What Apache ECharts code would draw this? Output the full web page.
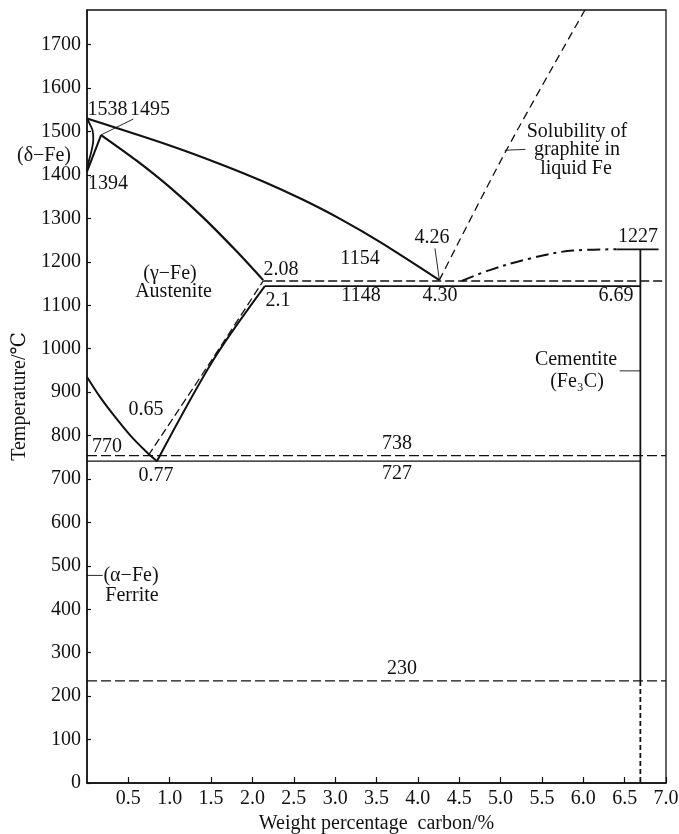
<!DOCTYPE html>
<html><head><meta charset="utf-8">
<script src="https://cdn.jsdelivr.net/npm/echarts@6/dist/echarts.min.js"></script>
<style>html,body{margin:0;padding:0;background:#fff}#c{width:679px;height:834px}</style>
</head><body><div id="c"></div>
<script>
// ---- data: [carbon %, temperature °C] ----
const liquidusBC = [[0,1530],[1.0,1468],[1.6,1426],[2.13,1385],[2.6,1344],[3.06,1299],[3.54,1246],[4.26,1158]];
const deltaLoop = [[0,1530],[0.04,1515],[0.07,1500],[0.076,1484],[0.057,1458],[0.016,1427],[0,1408]];
const gammaNJ = [[0,1408],[0.17,1492]];
const solidusJE = [[0.17,1492],[0.6,1433],[1.0,1372],[1.4,1303],[1.8,1226],[2.13,1158]];
const eutecticStable = [[2.13,1156],[7,1156]];
const eutecticMeta = [[2.15,1144],[6.69,1144]];
const cementiteLiquidus = [[4.53,1156],[4.87,1181],[5.36,1208],[5.88,1226],[6.40,1229]];
const graphiteSolubility = [[4.26,1158],[5.07,1457],[6.02,1780]];
const cementiteTop = [[6.40,1229],[6.91,1229]];
const cementiteSolid = [[6.69,1229],[6.69,235]];
const cementiteDashed = [[6.69,235],[6.69,0]];
const a3Line = [[0,935],[0.157,889],[0.318,848],[0.52,801],[0.72,762],[0.845,741]];
const acmLine = [[0.845,741],[1.527,974],[2.15,1144]];
const acmStable = [[0.74,754],[1.508,974],[2.13,1156]];
const eutectoidMeta = [[0,741],[6.69,741]];
const eutectoidStable = [[0,754],[7,754]];
const line230 = [[0,235],[7,235]];
// leader lines
const leader1495 = [[0.166,1492],[0.56,1529]];
const leader426 = [[4.207,1231],[4.26,1158]];
const leaderGraphite = [[5.05,1457],[5.30,1459]];
const leaderCementite = [[6.44,949],[6.69,949]];
const leaderAlpha = [[0,478],[0.19,478]];
const leaderDelta = [[-0.25,1446],[0,1446]];
// axes
const xMin = 0, xMax = 7, xStep = 0.5;
const yMin = 0, yMax = 1780, yStep = 100;

const FONT = '"Liberation Serif","DejaVu Serif",serif';
const INK = '#111';

function seg(data, width, type, extra) {
  return Object.assign({
    type: 'line', data, symbol: 'none', silent: true, animation: false,
    lineStyle: { color: INK, width, type: type || 'solid' }
  }, extra || {});
}
function txt(text, x, y, extra) {
  return Object.assign({
    type: 'text', x, y, silent: true,
    style: { text, fontSize: 20, fontFamily: FONT, fill: INK,
      align: 'center', verticalAlign: 'middle', textAlign: 'center', textVerticalAlign: 'middle' }
  }, extra || {});
}

const chart = echarts.init(document.getElementById('c'), null, { renderer: 'canvas' });
chart.setOption({
  backgroundColor: '#fff',
  animation: false,
  grid: { left: 87, right: 13, top: 10, bottom: 51, show: true, borderColor: INK, borderWidth: 1.3,
    containLabel: false, outerBoundsMode: 'none' },
  xAxis: {
    type: 'value', min: xMin, max: xMax, interval: xStep,
    name: 'Weight percentage  carbon/%', nameLocation: 'middle', nameGap: 29,
    nameTextStyle: { fontSize: 20, fontFamily: FONT, color: INK },
    axisLine: { lineStyle: { color: INK, width: 1.5 } },
    axisTick: { inside: true, length: 6, lineStyle: { color: INK, width: 1.2 } },
    axisLabel: { showMinLabel: false, fontSize: 20, fontFamily: FONT, color: INK, margin: 6,
      formatter: v => v.toFixed(1) },
    splitLine: { show: false }
  },
  yAxis: {
    type: 'value', min: yMin, max: yMax, interval: yStep,
    name: 'Temperature/℃', nameLocation: 'middle', nameGap: 57, nameRotate: 90,
    nameTextStyle: { fontSize: 20, fontFamily: FONT, color: INK },
    axisLine: { lineStyle: { color: INK, width: 1.5 } },
    axisTick: { inside: true, length: 4, lineStyle: { color: INK, width: 1.2 } },
    axisLabel: { showMaxLabel: false, fontSize: 20, fontFamily: FONT, color: INK, margin: 6,
      formatter: v => String(v) },
    splitLine: { show: false }
  },
  series: [
    seg(liquidusBC, 2.2, 'solid', { smooth: 0.3 }),
    seg(deltaLoop, 1.8, 'solid', { smooth: 0.5 }),
    seg(gammaNJ, 2, 'solid'),
    seg(solidusJE, 2.2, 'solid', { smooth: 0.3 }),
    seg(eutecticStable, 1.3, [9, 4]),
    seg(eutecticMeta, 1.8, 'solid'),
    seg(cementiteLiquidus, 2, [13, 5, 3, 5], { smooth: 0.4 }),
    seg(graphiteSolubility, 1.3, [8, 5], { smooth: 0.3 }),
    seg(cementiteTop, 1.8, 'solid'),
    seg(cementiteSolid, 1.8, 'solid'),
    seg(cementiteDashed, 1.8, [5, 3]),
    seg(a3Line, 2, 'solid', { smooth: 0.3 }),
    seg(acmLine, 2, 'solid', { smooth: 0.3 }),
    seg(acmStable, 1.3, [8, 4], { smooth: 0.3 }),
    seg(eutectoidMeta, 1.2, 'solid'),
    seg(eutectoidStable, 1.2, [10, 4]),
    seg(line230, 1.2, [10, 4]),
    seg(leader1495, 0.9, 'solid'),
    seg(leader426, 0.9, 'solid'),
    seg(leaderGraphite, 0.9, 'solid'),
    seg(leaderCementite, 0.9, 'solid'),
    seg(leaderAlpha, 0.9, 'solid'),
    seg(leaderDelta, 0.9, 'solid', { clip: false })
  ],
  graphic: [
    txt('1538', 107.5, 110),
    txt('1495', 150, 110),
    txt('1394', 108, 184),
    txt('(δ−Fe)', 44, 156),
    txt('(γ−Fe)', 170, 274),
    txt('Austenite', 173.5, 292),
    txt('2.08', 281, 270),
    txt('2.1', 278, 301),
    txt('1154', 360, 259),
    txt('1148', 361, 296),
    txt('4.30', 440, 296),
    txt('6.69', 616, 296),
    txt('4.26', 432, 238),
    txt('1227', 638, 237),
    txt('Solubility of', 577, 132),
    txt('graphite in', 577, 150),
    txt('liquid Fe', 576, 169),
    txt('Cementite', 576, 360),
    txt('(Fe₃C)', 577, 382),
    txt('0.65', 146, 410),
    txt('770', 107, 447),
    txt('0.77', 156, 476),
    txt('738', 397, 444),
    txt('727', 397, 474),
    txt('(α−Fe)', 131, 576),
    txt('Ferrite', 132, 596),
    txt('230', 402, 669)
  ]
});
</script>
</body></html>
